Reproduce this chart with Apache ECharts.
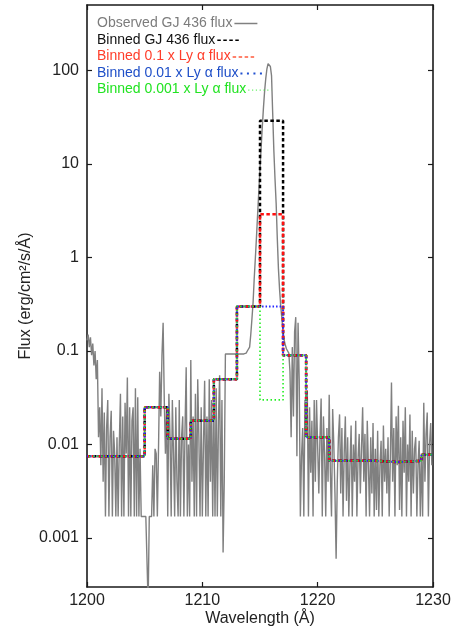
<!DOCTYPE html>
<html>
<head>
<meta charset="utf-8">
<script src="https://cdn.jsdelivr.net/npm/echarts@6/dist/echarts.min.js"></script>
<style>
html,body{margin:0;padding:0;background:#fff;}
#chart{width:455px;height:629px;}
</style>
</head>
<body>
<div id="chart"></div>
<script>
// ---------- data ----------
const obsStart = 1200.0;
const obsStep = 0.1;
const obsFluxA = [
  0.13, 0.15, 0.11, 0.14, 0.09, 0.12, 0.07, 0.1, 0.05, 0.08,
  0.012, 0.025, 0.006, 0.04, 0.004, 0.022, 0.0017, 0.015, 0.03, 0.0017,
  0.012, 0.023, 0.0017, 0.014, 0.008, 0.0017, 0.012, 0.0017, 0.01, 0.035,
  0.0017, 0.02, 0.0017, 0.028, 0.008, 0.052, 0.0017, 0.025, 0.0017, 0.018,
  0.025, 0.0017, 0.04, 0.0017, 0.032, 0.0017, 0.009, 0.0017, 0.0017, 0.0017,
  0.0017, 0.0017, 0.0017, 0.0002, 0.0017, 0.0017, 0.0017, 0.006, 0.0017, 0.009,
  0.008, 0.0017, 0.009, 0.06, 0.02, 0.09, 0.2, 0.03, 0.008, 0.025,
  0.0017, 0.035, 0.012, 0.0017, 0.03, 0.008, 0.0017, 0.025, 0.004, 0.0017,
  0.03, 0.0017, 0.012, 0.02, 0.0017, 0.015, 0.067, 0.0017, 0.01, 0.0017,
  0.08, 0.004, 0.02, 0.0017, 0.035, 0.0017, 0.05, 0.012, 0.0017, 0.025,
  0.0017, 0.01, 0.048, 0.0017, 0.02, 0.0017, 0.05, 0.004, 0.03, 0.0017,
  0.025, 0.0017, 0.04, 0.0017, 0.018, 0.055, 0.0017, 0.03, 0.0007, 0.004
];
const obsFluxPeak = [
  0.093, 0.093, 0.093, 0.093, 0.093, 0.093, 0.093, 0.093, 0.093, 0.093,
  0.093, 0.093, 0.093, 0.093, 0.093, 0.093, 0.093, 0.093,
  0.095, 0.1,
  0.1, 0.11, 0.15, 0.22, 0.33, 0.6, 1.0, 1.7, 3.0, 5.2,
  9, 15, 25, 40, 60, 82, 104, 118, 121, 110,
  88, 35, 14, 7, 3.8, 1.6, 0.75, 0.45, 0.3, 0.22,
  0.16, 0.13, 0.115, 0.105, 0.1, 0.095
];
const obsFluxB = [
  0.06, 0.012, 0.11, 0.02,
  0.16, 0.23, 0.0075, 0.2, 0.05, 0.0017, 0.0075, 0.015, 0.0017, 0.03,
  0.012, 0.038, 0.0017, 0.025, 0.005, 0.018, 0.0017, 0.03, 0.004, 0.03,
  0.031, 0.003, 0.012, 0.031, 0.0017, 0.02, 0.008, 0.0017, 0.015, 0.004,
  0.034, 0.005, 0.0017, 0.024, 0.01, 0.003, 0.0006, 0.004, 0.012, 0.021,
  0.003, 0.015, 0.0017, 0.008, 0.02, 0.0025, 0.012, 0.0017, 0.006, 0.016,
  0.0017, 0.01, 0.004, 0.018, 0.0017, 0.007, 0.013, 0.003, 0.009, 0.025,
  0.004, 0.013, 0.0017, 0.018, 0.006, 0.0017, 0.012, 0.003, 0.017, 0.0017,
  0.009, 0.002, 0.014, 0.0017, 0.006, 0.011, 0.0017, 0.016, 0.004, 0.009,
  0.003, 0.012, 0.0017, 0.007, 0.046, 0.004, 0.015, 0.0017, 0.02, 0.006,
  0.026, 0.002, 0.012, 0.0017, 0.018, 0.005, 0.025, 0.0017, 0.01, 0.004,
  0.021, 0.0017, 0.014, 0.003, 0.009, 0.012, 0.0017, 0.006, 0.011, 0.0017,
  0.008, 0.0017, 0.028, 0.004, 0.013, 0.022, 0.0017, 0.01, 0.017, 0.006
];

const binEdges   = [1200, 1205, 1207, 1209, 1211, 1213, 1215, 1217, 1219, 1221, 1225, 1227, 1229, 1230];
const binnedObs  = [0.0075, 0.025, 0.0115, 0.018, 0.05, 0.3, 29,   0.09, 0.012, 0.0067, 0.0065, 0.0067, 0.0078];
const binned01   = [0.0075, 0.025, 0.0115, 0.018, 0.05, 0.3, 2.9,  0.09, 0.012, 0.0067, 0.0065, 0.0067, 0.0078];
const binned001  = [0.0075, 0.025, 0.0115, 0.018, 0.05, 0.3, 0.3,  0.09, 0.012, 0.0067, 0.0065, 0.0067, 0.0078];
const binned0001 = [0.0075, 0.025, 0.0115, 0.018, 0.05, 0.3, 0.03, 0.09, 0.012, 0.0067, 0.0065, 0.0067, 0.0078];

const seriesNames = [
  'Observed GJ 436 flux',
  'Binned GJ 436 flux',
  'Binned 0.1 x Ly \u03b1 flux',
  'Binned 0.01 x Ly \u03b1 flux',
  'Binned 0.001 x Ly \u03b1 flux'
];
const xTickValues = [1200, 1210, 1220, 1230];
const xTickLabels = ['1200', '1210', '1220', '1230'];
const yTickValues = [0.001, 0.01, 0.1, 1, 10, 100];
const yTickLabels = ['0.001', '0.01', '0.1', '1', '10', '100'];

// ---------- build ----------
const obsFlux = obsFluxA.concat(obsFluxPeak, obsFluxB);
const obsData = obsFlux.map((v, i) => [+(obsStart + i * obsStep).toFixed(2), v]);
function stepData(vals) {
  return binEdges.map((e, i) => [e, i < vals.length ? vals[i] : vals[vals.length - 1]]);
}

const FONT = '"Liberation Sans", Arial, Helvetica, sans-serif';
const axisColor = '#1a1a1a';

const chart = echarts.init(document.getElementById('chart'), null, {renderer: 'canvas'});

// key (gnuplot-like: text then sample)
const keyFontSize = 14;
const ctx = document.createElement('canvas').getContext('2d');
ctx.font = keyFontSize + 'px ' + FONT;
const keyX = 97;
const keyY = [23, 39.7, 56.4, 73, 89.6];
const keyTextColors = ['#7c7c7c', '#111111', '#ff3d2a', '#1f4fc8', '#22e322'];
const keySample = [
  {stroke: '#808080', lineWidth: 1.5, lineDash: null},
  {stroke: '#000000', lineWidth: 1.5, lineDash: [3.5, 2.5]},
  {stroke: '#ff5a3c', lineWidth: 1.5, lineDash: [3.5, 2.5]},
  {stroke: '#2050d0', lineWidth: 2, lineDash: [2, 4.5]},
  {stroke: '#44ee44', lineWidth: 1, lineDash: [1.2, 2.6]}
];
const graphics = [];
seriesNames.forEach((name, i) => {
  const w = ctx.measureText(name).width;
  graphics.push({
    type: 'text', z: 100,
    style: {text: name, x: keyX, y: keyY[i], fill: keyTextColors[i], font: keyFontSize + 'px ' + FONT,
            align: 'left', verticalAlign: 'middle', textAlign: 'left', textVerticalAlign: 'middle'}
  });
  graphics.push({
    type: 'line', z: 100,
    shape: {x1: keyX + w + 2, y1: keyY[i] + 0.5, x2: keyX + w + 25, y2: keyY[i] + 0.5},
    style: Object.assign({}, keySample[i])
  });
});

const yMin = 0.0003, yMax = 500;

function xFmt(v) {
  const k = xTickValues.indexOf(Math.round(v));
  return k >= 0 ? xTickLabels[k] : String(v);
}
function yFmt(v) {
  for (let k = 0; k < yTickValues.length; k++) {
    if (Math.abs(Math.log10(v) - Math.log10(yTickValues[k])) < 1e-6) return yTickLabels[k];
  }
  return '';
}

const option = {
  animation: false,
  backgroundColor: '#ffffff',
  textStyle: {fontFamily: FONT},
  grid: {left: 87, right: 22, top: 5, bottom: 42, containLabel: false, outerBoundsMode: 'none'},
  xAxis: [{
    type: 'value', min: 1200, max: 1230, interval: 10, position: 'bottom',
    name: 'Wavelength (\u00c5)', nameLocation: 'middle', nameGap: 24, nameMoveOverlap: false,
    nameTextStyle: {fontSize: 16, color: '#222', fontFamily: FONT},
    axisLine: {show: true, onZero: false, lineStyle: {color: axisColor, width: 1.6}},
    axisTick: {show: true, inside: true, length: 5, lineStyle: {color: axisColor, width: 1.2}},
    axisLabel: {show: true, fontSize: 16, color: '#222', margin: 6, fontFamily: FONT, formatter: xFmt},
    splitLine: {show: false}, minorTick: {show: false}
  }, {
    type: 'value', min: 1200, max: 1230, interval: 10, position: 'top',
    axisLine: {show: true, onZero: false, lineStyle: {color: axisColor, width: 1.6}},
    axisTick: {show: true, inside: true, length: 5, lineStyle: {color: axisColor, width: 1.2}},
    axisLabel: {show: false}, splitLine: {show: false}
  }],
  yAxis: [{
    type: 'log', logBase: 10, min: yMin, max: yMax, position: 'left',
    name: 'Flux (erg/cm\u00b2/s/\u00c5)', nameLocation: 'middle', nameGap: 53, nameMoveOverlap: false,
    nameTextStyle: {fontSize: 16, color: '#222', fontFamily: FONT},
    axisLine: {show: true, onZero: false, lineStyle: {color: axisColor, width: 1.6}},
    axisTick: {show: true, inside: true, length: 5, customValues: yTickValues, lineStyle: {color: axisColor, width: 1.2}},
    axisLabel: {show: true, fontSize: 16, color: '#222', margin: 8, fontFamily: FONT,
      customValues: yTickValues, formatter: yFmt},
    splitLine: {show: false}, minorTick: {show: false}
  }, {
    type: 'log', logBase: 10, min: yMin, max: yMax, position: 'right',
    axisLine: {show: true, onZero: false, lineStyle: {color: axisColor, width: 1.6}},
    axisTick: {show: true, inside: true, length: 5, customValues: yTickValues, lineStyle: {color: axisColor, width: 1.2}},
    axisLabel: {show: false}, splitLine: {show: false}
  }],
  series: [
    {
      name: seriesNames[0], type: 'line', data: obsData, symbol: 'none', clip: true,
      lineStyle: {color: '#808080', width: 1.4}, itemStyle: {color: '#808080'}, z: 2
    },
    {
      name: seriesNames[1], type: 'line', step: 'end', data: stepData(binnedObs), symbol: 'none', clip: true,
      lineStyle: {color: '#000000', width: 2.5, type: [3.5, 2.5]}, itemStyle: {color: '#000'}, z: 3
    },
    {
      name: seriesNames[2], type: 'line', step: 'end', data: stepData(binned01), symbol: 'none', clip: true,
      lineStyle: {color: '#ff1010', width: 2.5, type: [3.5, 2.5], dashOffset: 1.5}, itemStyle: {color: '#f00'}, z: 4
    },
    {
      name: seriesNames[3], type: 'line', step: 'end', data: stepData(binned001), symbol: 'none', clip: true,
      lineStyle: {color: '#2626ff', width: 2, type: [1.5, 2], dashOffset: 0.5}, itemStyle: {color: '#00f'}, z: 5
    },
    {
      name: seriesNames[4], type: 'line', step: 'end', data: stepData(binned0001), symbol: 'none', clip: true,
      lineStyle: {color: '#22ee22', width: 1.6, type: [1.5, 2.5], dashOffset: 2}, itemStyle: {color: '#0e0'}, z: 6
    }
  ],
  graphic: graphics
};
chart.setOption(option);
</script>
</body>
</html>
